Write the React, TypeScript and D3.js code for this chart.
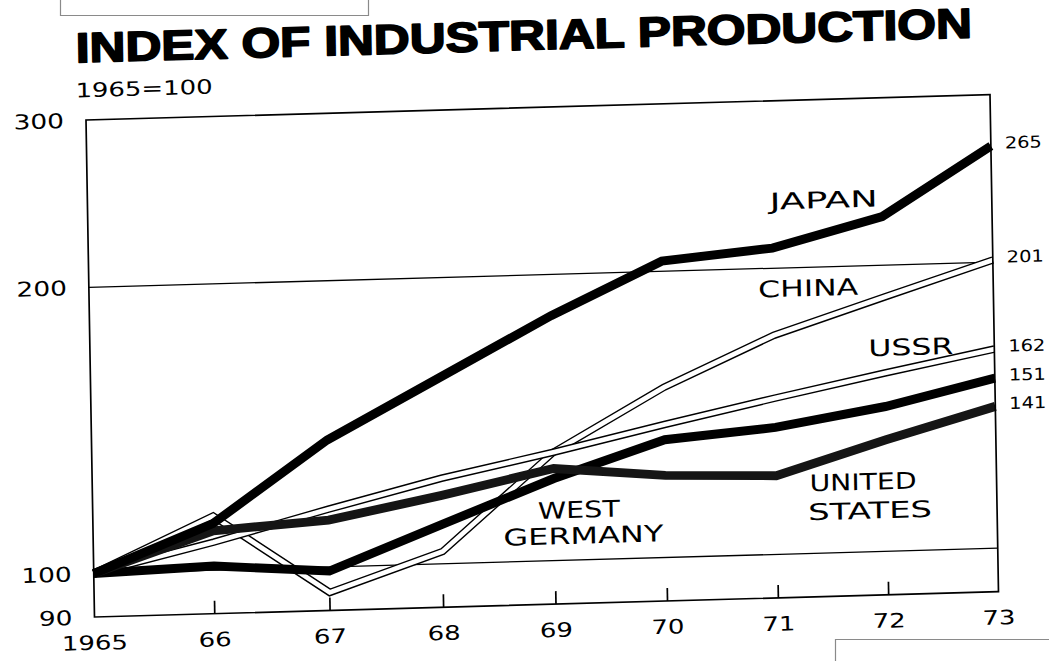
import React from 'react';
import * as d3 from 'd3';

// ---- data ----
const years = [1965, 1966, 1967, 1968, 1969, 1970, 1971, 1972, 1973];
const yearLabels = ['1965', '66', '67', '68', '69', '70', '71', '72', '73'];
const japan = [100, 112, 136, 157, 181, 205, 210, 225, 265];
const china = [100, 114, 94, 103, 130, 151, 170, 185, 201];
const ussr = [100, 107, 115, 123, 130, 138, 146, 154, 162];
const westGermany = [100, 101, 99, 110, 122, 133, 136, 142, 151];
const unitedStates = [100, 110, 112, 118, 125, 122, 121, 131, 141];
const yTickValues = [90, 100, 200, 300];
const gridValues = [100, 200];
const titleText = 'INDEX OF INDUSTRIAL PRODUCTION';
const baseText = '1965=100';

const W = 904;
const H = 499;

export default function App() {
  const xp = d3.scalePow().exponent(0.97).domain([0, 8]).range([0, W]);
  const x = (yr: number) => xp(yr - years[0]);
  const y = d3.scaleLog().domain([90, 300]).range([H, 0]);
  const line = d3
    .line<number>()
    .x((_, i) => x(years[i]))
    .y((d) => y(d));

  const series = [
    { key: 'china', values: china, hollow: true },
    { key: 'ussr', values: ussr, hollow: true },
    { key: 'wg', values: westGermany, hollow: false, color: '#000' },
    { key: 'us', values: unitedStates, hollow: false, color: '#151515' },
    { key: 'japan', values: japan, hollow: false, color: '#000' },
  ];

  const labels = [
    { t: 'JAPAN', x: 682, y: 109, w: 108 },
    { t: 'CHINA', x: 669, y: 197, w: 100 },
    { t: 'USSR', x: 778, y: 259, w: 85 },
    { t: 'UNITED', x: 717, y: 393, w: 107 },
    { t: 'STATES', x: 715, y: 422, w: 124 },
    { t: 'WEST', x: 445, y: 413, w: 82 },
    { t: 'GERMANY', x: 410, y: 439, w: 160 },
  ];

  const endVals = [japan, china, ussr, westGermany, unitedStates].map((s) => s[s.length - 1]);
  const numFont = "'DejaVu Sans', Verdana, sans-serif";

  return (
    <svg
      width={1049}
      height={661}
      style={{ position: 'absolute', left: 0, top: 0, background: '#fff' }}
    >
      <rect x={0} y={0} width={1049} height={661} fill="#fff" />
      {/* scan artifacts: page boxes */}
      <path d="M60.5,0 V15.5 H368.5 V0" fill="none" stroke="#8a8a8a" strokeWidth={1.2} />
      <path d="M835.5,661 V639.5 H1049" fill="none" stroke="#8a8a8a" strokeWidth={1.2} />

      <g transform="matrix(1,-0.028,0.017,0.996,86,120)">
        {/* title */}
        <text
          x={-9}
          y={-58}
          fontFamily="'Liberation Sans', Arial, sans-serif"
          fontWeight={900}
          fontSize={42}
          stroke="#000"
          strokeWidth={1.7}
          strokeLinejoin="round"
          textLength={896}
          lengthAdjust="spacingAndGlyphs"
        >
          {titleText}
        </text>
        <text
          x={-10}
          y={-23}
          fontFamily={numFont}
          fontSize={20}
          textLength={137}
          lengthAdjust="spacingAndGlyphs"
        >
          {baseText}
        </text>

        {/* grid lines */}
        {gridValues.map((v) => (
          <line key={v} x1={0} x2={W} y1={y(v)} y2={y(v)} stroke="#000" strokeWidth={1.3} />
        ))}

        {/* series */}
        {series.map((s) =>
          s.hollow ? (
            <g key={s.key}>
              <path d={line(s.values) || ''} fill="none" stroke="#000" strokeWidth={7.6} strokeLinejoin="miter" />
              <path d={line(s.values) || ''} fill="none" stroke="#fff" strokeWidth={4.8} strokeLinejoin="miter" />
            </g>
          ) : (
            <path
              key={s.key}
              d={line(s.values) || ''}
              fill="none"
              stroke={s.color}
              strokeWidth={9}
              strokeLinejoin="miter"
            />
          )
        )}

        {/* frame */}
        <rect x={0} y={0} width={W} height={H} fill="none" stroke="#000" strokeWidth={1.7} />
        {years.slice(1, -1).map((yr) => (
          <line key={yr} x1={x(yr)} x2={x(yr)} y1={H} y2={H - 13} stroke="#000" strokeWidth={1.7} />
        ))}

        {/* y tick labels */}
        {yTickValues.map((v) => {
          const s = String(v);
          return (
            <text
              key={v}
              x={-22}
              y={y(v)}
              dy="0.36em"
              textAnchor="end"
              fontFamily={numFont}
              fontSize={20.5}
              textLength={s.length * 16.8}
              lengthAdjust="spacingAndGlyphs"
            >
              {s}
            </text>
          );
        })}

        {/* x tick labels */}
        {years.map((yr, i) => (
          <text
            key={yr}
            x={x(yr)}
            y={H + 33}
            textAnchor="middle"
            fontFamily={numFont}
            fontSize={20}
            textLength={yearLabels[i].length * 16.5}
            lengthAdjust="spacingAndGlyphs"
          >
            {yearLabels[i]}
          </text>
        ))}

        {/* end value labels */}
        {endVals.map((v) => (
          <text
            key={v}
            x={W + 14}
            y={y(v) - 3}
            dy="0.36em"
            fontFamily={numFont}
            fontSize={16.5}
            textLength={37}
            lengthAdjust="spacingAndGlyphs"
          >
            {v}
          </text>
        ))}

        {/* series labels */}
        {labels.map((l) => (
          <text
            key={l.t}
            x={l.x}
            y={l.y}
            fontFamily={numFont}
            fontSize={23}
            textLength={l.w}
            lengthAdjust="spacingAndGlyphs"
          >
            {l.t}
          </text>
        ))}
      </g>
    </svg>
  );
}
